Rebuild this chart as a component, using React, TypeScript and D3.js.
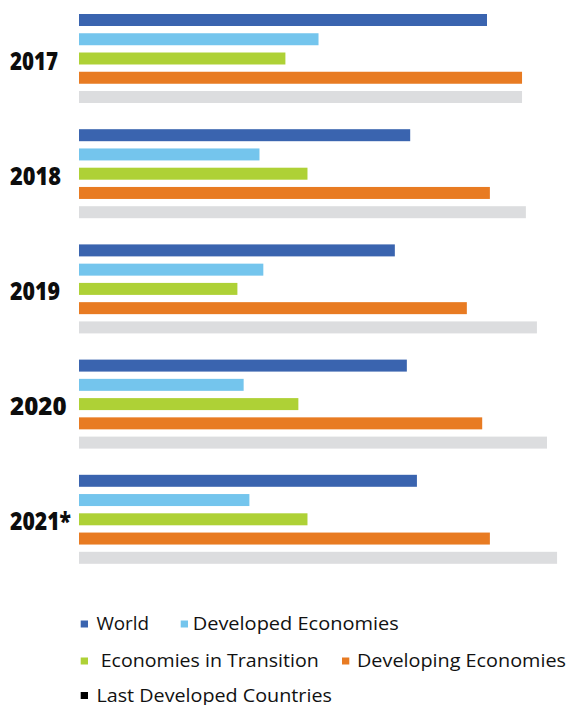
import React from "react";
import * as d3 from "d3";

const years = ["2017", "2018", "2019", "2020", "2021*"];
const seriesNames = [
  "World",
  "Developed Economies",
  "Economies in Transition",
  "Developing Economies",
  "Last Developed Countries",
];
const seriesColors = ["#3A64AF", "#74C5ED", "#AED136", "#E87B22", "#DCDDDF"];
const legendColors = ["#3A64AF", "#74C5ED", "#AED136", "#E87B22", "#000000"];

// values per series, one entry per year
const world = [85.0, 69.0, 65.8, 68.3, 70.4];
const developed = [49.9, 37.6, 38.4, 34.3, 35.5];
const transition = [43.0, 47.6, 33.0, 45.7, 47.6];
const developing = [92.3, 85.6, 80.8, 84.0, 85.6];
const ldc = [92.3, 93.1, 95.4, 97.5, 99.6];
const seriesValues = [world, developed, transition, developing, ldc];

const yearLabelWidths = [48, 51, 50, 56.5, 61];

const W = 567;
const H = 705;

export default function App() {
  const x = d3.scaleLinear().domain([0, 100]).range([79, 79 + 480]);
  const outer = d3
    .scaleBand<string>()
    .domain(years)
    .range([14, 14 + 5 * 115.2])
    .padding(0);
  const inner = d3
    .scaleBand<string>()
    .domain(seriesNames)
    .range([0, 89])
    .paddingInner(0.377)
    .paddingOuter(0);

  const legendRows = [
    [
      { i: 0, mx: 80.7, tx: 96.4, w: 52.7 },
      { i: 1, mx: 180.7, tx: 192.7, w: 206 },
    ],
    [
      { i: 2, mx: 80.7, tx: 100.7, w: 218 },
      { i: 3, mx: 342, tx: 357, w: 209 },
    ],
    [{ i: 4, mx: 80.7, tx: 96.4, w: 235.5 }],
  ];
  const legendBaselines = [630, 667, 701.5];

  return (
    <svg
      width={W}
      height={H}
      style={{ position: "absolute", left: 0, top: 0, background: "#fff" }}
    >
      {years.map((yr, yi) => {
        const gy = outer(yr)!;
        return (
          <g key={yr}>
            <text
              x={10}
              y={gy + 44.5 + 11}
              fontFamily="'Open Sans', sans-serif"
              fontWeight={800}
              fontSize={25}
              fill="#0d0d0d"
              textLength={yearLabelWidths[yi]}
              lengthAdjust="spacingAndGlyphs"
            >
              {yr}
            </text>
            {seriesNames.map((s, si) => (
              <rect
                key={s}
                x={x(0)}
                y={gy + inner(s)!}
                width={x(seriesValues[si][yi]) - x(0)}
                height={inner.bandwidth()}
                fill={seriesColors[si]}
              />
            ))}
          </g>
        );
      })}
      {legendRows.map((row, ri) =>
        row.map((it) => (
          <g key={it.i}>
            <rect
              x={it.mx}
              y={legendBaselines[ri] - 9.5}
              width={7.3}
              height={7}
              fill={legendColors[it.i]}
            />
            <text
              x={it.tx}
              y={legendBaselines[ri]}
              fontFamily="'Open Sans', sans-serif"
              fontSize={17.5}
              fill="#111"
              textLength={it.w}
              lengthAdjust="spacingAndGlyphs"
            >
              {seriesNames[it.i]}
            </text>
          </g>
        ))
      )}
    </svg>
  );
}
